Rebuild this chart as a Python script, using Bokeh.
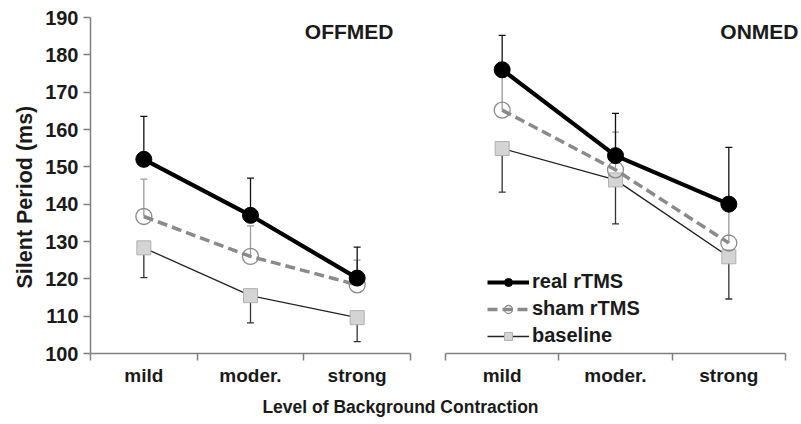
from bokeh.plotting import figure
from bokeh.models import (ColumnDataSource, Whisker, TeeHead, FixedTicker, Range1d,
                          Label, Legend, LegendItem, Div, Title)
from bokeh.layouts import row, column
from bokeh.embed import file_html
from bokeh.resources import INLINE

# ---------------- data ----------------
categories = ["mild", "moder.", "strong"]
y_ticks = [100, 110, 120, 130, 140, 150, 160, 170, 180, 190]

off_real = [152.0, 137.0, 120.2]
off_real_hi = [163.5, 147.0, 128.5]
off_sham = [136.7, 126.0, 118.4]
off_sham_hi = [146.7, 134.2, 125.0]
off_base = [128.3, 115.5, 109.6]
off_base_lo = [120.3, 108.2, 103.2]

on_real = [176.0, 153.0, 140.0]
on_real_hi = [185.2, 164.3, 155.2]
on_sham = [165.2, 149.2, 129.6]
on_sham_hi = [174.0, 159.3, 139.0]
on_base = [154.9, 146.5, 125.9]
on_base_lo = [143.2, 134.7, 114.6]

FONT = "Liberation Sans"
TXT = "#1a1a1a"
AXC = "#7f7f7f"

n = len(categories)
xs = [i + 0.5 for i in range(n)]
bounds = [float(i) for i in range(n + 1)]


def make_panel(width, left, right, axis_px, real, real_hi, sham, sham_hi, base, base_lo, show_y):
    frame_w = width - left - right
    x_end = n * frame_w / axis_px  # frame may extend past the axis (room for the panel title)
    p = figure(width=width, height=388, x_range=Range1d(0, x_end),
               y_range=Range1d(y_ticks[0], y_ticks[-1]),
               output_backend="svg", toolbar_location=None,
               min_border_left=left, min_border_right=right,
               min_border_top=17, min_border_bottom=30)
    p.outline_line_color = None
    p.xgrid.visible = False
    p.ygrid.visible = False
    p.background_fill_color = "white"
    p.border_fill_color = "white"

    xa = p.xaxis[0]
    xa.bounds = (0, n)
    xa.ticker = FixedTicker(ticks=xs, minor_ticks=bounds)
    xa.major_label_overrides = {x: c for x, c in zip(xs, categories)}
    xa.major_tick_line_color = None
    xa.minor_tick_in = 0
    xa.minor_tick_out = 7
    xa.minor_tick_line_color = AXC
    xa.minor_tick_line_width = 1.5
    xa.axis_line_color = AXC
    xa.axis_line_width = 1.5
    xa.major_label_text_font = FONT
    xa.major_label_text_font_style = "bold"
    xa.major_label_text_font_size = "19px"
    xa.major_label_text_color = TXT
    xa.major_label_standoff = 4

    ya = p.yaxis[0]
    if show_y:
        ya.ticker = FixedTicker(ticks=y_ticks, minor_ticks=[])
        ya.major_tick_in = 0
        ya.major_tick_out = 7
        ya.major_tick_line_color = AXC
        ya.major_tick_line_width = 1.5
        ya.axis_line_color = AXC
        ya.axis_line_width = 1.5
        ya.major_label_text_font = FONT
        ya.major_label_text_font_style = "bold"
        ya.major_label_text_font_size = "20px"
        ya.major_label_text_color = TXT
        ya.major_label_standoff = 5
    else:
        ya.visible = False

    s_real = ColumnDataSource(dict(x=xs, y=real, hi=real_hi))
    s_sham = ColumnDataSource(dict(x=xs, y=sham, hi=sham_hi))
    s_base = ColumnDataSource(dict(x=xs, y=base, lo=base_lo))

    # error bars
    p.add_layout(Whisker(base="x", lower="lo", upper="y", source=s_base, dimension="height",
                         line_color="#333333", line_width=1.3, level="underlay",
                         upper_head=None,
                         lower_head=TeeHead(size=7, line_color="#333333", line_width=1.3)))
    p.add_layout(Whisker(base="x", lower="y", upper="hi", source=s_sham, dimension="height",
                         line_color="#9a9a9a", line_width=1.3, level="underlay",
                         lower_head=None,
                         upper_head=TeeHead(size=7, line_color="#9a9a9a", line_width=1.3)))
    p.add_layout(Whisker(base="x", lower="y", upper="hi", source=s_real, dimension="height",
                         line_color="#111111", line_width=1.3, level="underlay",
                         lower_head=None,
                         upper_head=TeeHead(size=7, line_color="#111111", line_width=1.3)))

    lb = p.line("x", "y", source=s_base, line_color="#222222", line_width=1.3)
    mb = p.scatter("x", "y", source=s_base, marker="square", size=14,
                   fill_color="#d4d4d4", line_color="#b0b0b0", line_width=1)
    ls = p.line("x", "y", source=s_sham, line_color="#8a8a8a", line_width=3.5, line_dash="10 5")
    ms = p.scatter("x", "y", source=s_sham, marker="circle", size=16,
                   fill_color=None, line_color="#8a8a8a", line_width=1.3)
    lr = p.line("x", "y", source=s_real, line_color="#000000", line_width=4.2)
    mr = p.scatter("x", "y", source=s_real, marker="circle", size=16,
                   fill_color="#000000", line_color="#000000")
    return p, (lr, mr), (ls, ms), (lb, mb)


left, _, _, _ = make_panel(425, 90, 15, 320, off_real, off_real_hi, off_sham, off_sham_hi,
                           off_base, off_base_lo, True)
right, r_real, r_sham, r_base = make_panel(376, 20, 1, 340, on_real, on_real_hi, on_sham,
                                           on_sham_hi, on_base, on_base_lo, False)

left.add_layout(Label(x=303, y=334, x_units="screen", y_units="screen", text="OFFMED",
                      text_align="right", text_baseline="top", text_font=FONT,
                      text_font_style="bold", text_font_size="21px", text_color=TXT))
right.add_layout(Label(x=353, y=334, x_units="screen", y_units="screen", text="ONMED",
                       text_align="right", text_baseline="top", text_font=FONT,
                       text_font_style="bold", text_font_size="21px", text_color=TXT))

ytitle = Title(text="Silent Period (ms)", align="left", offset=65, standoff=11,
               text_font=FONT, text_font_style="bold", text_font_size="21.5px",
               text_color=TXT)
left.add_layout(ytitle, "left")

legend = Legend(items=[LegendItem(label="real rTMS", renderers=list(r_real)),
                       LegendItem(label="sham rTMS", renderers=list(r_sham)),
                       LegendItem(label="baseline", renderers=list(r_base))],
                location=(42, 6), padding=0, margin=0, spacing=4,
                glyph_width=42, glyph_height=20, label_height=20, label_standoff=3,
                label_text_font=FONT, label_text_font_style="bold",
                label_text_font_size="20px", label_text_color=TXT,
                border_line_color=None, background_fill_alpha=0)
right.add_layout(legend)

xlabel = Div(text="Level of Background Contraction", width=801, height=17,
             margin=(11, 0, 0, 0),
             styles={"text-align": "center", "font-family": FONT, "font-weight": "bold",
                     "font-size": "17.5px", "line-height": "17px", "color": TXT,
                     "width": "801px"})

layout = column(row(left, right), xlabel)

open("out.html", "w").write(file_html(layout, INLINE))
